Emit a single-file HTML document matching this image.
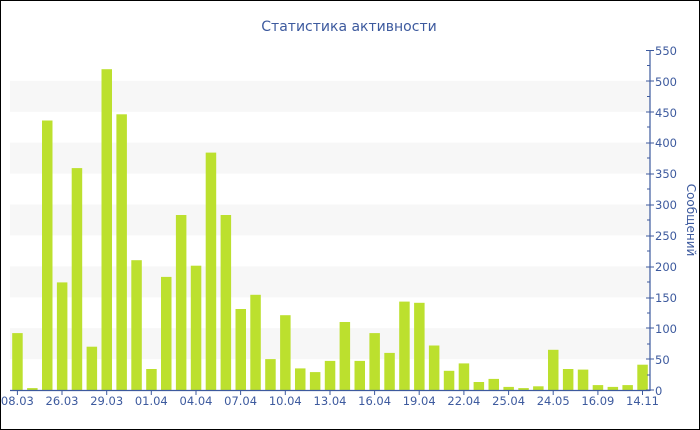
<!DOCTYPE html>
<html><head><meta charset="utf-8"><style>body{margin:0;background:#fff}svg{display:block}</style></head><body>
<svg width="700" height="430" xmlns="http://www.w3.org/2000/svg" font-family="'DejaVu Sans', 'Liberation Sans', sans-serif">
<rect x="0.5" y="0.5" width="699" height="429" fill="#fff" stroke="#000"/>
<g fill="#f7f7f7">
<rect x="10" y="328.2" width="640" height="30.9"/>
<rect x="10" y="266.4" width="640" height="30.9"/>
<rect x="10" y="204.5" width="640" height="30.9"/>
<rect x="10" y="142.7" width="640" height="30.9"/>
<rect x="10" y="80.9" width="640" height="30.9"/>
</g>
<text x="349" y="31" text-anchor="middle" font-size="14" fill="#3d5a9e">Статистика активности</text>
<g transform="translate(0,390) scale(1,-1)" fill="#bce02e">
<rect x="12.2" y="0" width="10.5" height="56.9"/>
<rect x="27.1" y="0" width="10.5" height="1.9"/>
<rect x="42.0" y="0" width="10.5" height="269.5"/>
<rect x="56.9" y="0" width="10.5" height="107.6"/>
<rect x="71.7" y="0" width="10.5" height="221.9"/>
<rect x="86.6" y="0" width="10.5" height="43.3"/>
<rect x="101.5" y="0" width="10.5" height="320.8"/>
<rect x="116.4" y="0" width="10.5" height="275.7"/>
<rect x="131.3" y="0" width="10.5" height="129.8"/>
<rect x="146.2" y="0" width="10.5" height="21.0"/>
<rect x="161.0" y="0" width="10.5" height="113.1"/>
<rect x="175.9" y="0" width="10.5" height="175.0"/>
<rect x="190.8" y="0" width="10.5" height="124.3"/>
<rect x="205.7" y="0" width="10.5" height="237.4"/>
<rect x="220.6" y="0" width="10.5" height="175.0"/>
<rect x="235.5" y="0" width="10.5" height="81.0"/>
<rect x="250.3" y="0" width="10.5" height="95.2"/>
<rect x="265.2" y="0" width="10.5" height="30.9"/>
<rect x="280.1" y="0" width="10.5" height="74.8"/>
<rect x="295.0" y="0" width="10.5" height="21.6"/>
<rect x="309.9" y="0" width="10.5" height="17.9"/>
<rect x="324.8" y="0" width="10.5" height="29.1"/>
<rect x="339.6" y="0" width="10.5" height="68.0"/>
<rect x="354.5" y="0" width="10.5" height="29.1"/>
<rect x="369.4" y="0" width="10.5" height="56.9"/>
<rect x="384.3" y="0" width="10.5" height="37.1"/>
<rect x="399.2" y="0" width="10.5" height="88.4"/>
<rect x="414.1" y="0" width="10.5" height="87.2"/>
<rect x="428.9" y="0" width="10.5" height="44.5"/>
<rect x="443.8" y="0" width="10.5" height="19.2"/>
<rect x="458.7" y="0" width="10.5" height="26.6"/>
<rect x="473.6" y="0" width="10.5" height="8.0"/>
<rect x="488.5" y="0" width="10.5" height="11.1"/>
<rect x="503.4" y="0" width="10.5" height="3.1"/>
<rect x="518.3" y="0" width="10.5" height="1.9"/>
<rect x="533.1" y="0" width="10.5" height="3.7"/>
<rect x="548.0" y="0" width="10.5" height="40.2"/>
<rect x="562.9" y="0" width="10.5" height="21.0"/>
<rect x="577.8" y="0" width="10.5" height="20.4"/>
<rect x="592.7" y="0" width="10.5" height="4.9"/>
<rect x="607.6" y="0" width="10.5" height="3.1"/>
<rect x="622.4" y="0" width="10.5" height="4.9"/>
<rect x="637.3" y="0" width="10.5" height="25.3"/>
</g>
<g stroke="#3d5a9e" stroke-width="1.2">
<line x1="10" y1="390.5" x2="650" y2="390.5"/>
<line x1="650" y1="50" x2="650" y2="391"/>
</g>
<g stroke="#3d5a9e" stroke-width="1">
<path d="M646 50.5h8M646 81h8M646 112h8M646 143h8M646 174h8M646 205h8M646 236h8M646 267h8M646 298h8M646 328h8M646 359h8M646 390h8"/>
<path d="M647 65.5h3M647 96.5h3M647 127h3M647 158h3M647 189h3M647 220h3M647 251h3M647 282h3M647 313h3M647 344h3M647 375h3"/>
<path d="M17.4 390v5M62 390v5M106.7 390v5M151.3 390v5M196 390v5M240.6 390v5M285.3 390v5M330 390v5M374.6 390v5M419.2 390v5M463.9 390v5M508.6 390v5M553.2 390v5M597.9 390v5M642.5 390v5"/>
</g>
<g font-size="11.5" fill="#3d5a9e">
<text x="655" y="55">550</text>
<text x="655" y="86">500</text>
<text x="655" y="117">450</text>
<text x="655" y="147">400</text>
<text x="655" y="178">350</text>
<text x="655" y="209">300</text>
<text x="655" y="240">250</text>
<text x="655" y="271">200</text>
<text x="655" y="302">150</text>
<text x="655" y="333">100</text>
<text x="655" y="364">50</text>
<text x="655" y="395">0</text>
</g>
<g font-size="11.5" fill="#3d5a9e" text-anchor="middle">
<text x="17.4" y="405">08.03</text>
<text x="62" y="405">26.03</text>
<text x="106.7" y="405">29.03</text>
<text x="151.3" y="405">01.04</text>
<text x="196" y="405">04.04</text>
<text x="240.6" y="405">07.04</text>
<text x="285.3" y="405">10.04</text>
<text x="330" y="405">13.04</text>
<text x="374.6" y="405">16.04</text>
<text x="419.2" y="405">19.04</text>
<text x="463.9" y="405">22.04</text>
<text x="508.6" y="405">25.04</text>
<text x="553.2" y="405">24.05</text>
<text x="597.9" y="405">16.09</text>
<text x="642.5" y="405">14.11</text>
</g>
<text transform="translate(687,220) rotate(90)" text-anchor="middle" font-size="12" fill="#3d5a9e">Сообщений</text>
</svg>
</body></html>
